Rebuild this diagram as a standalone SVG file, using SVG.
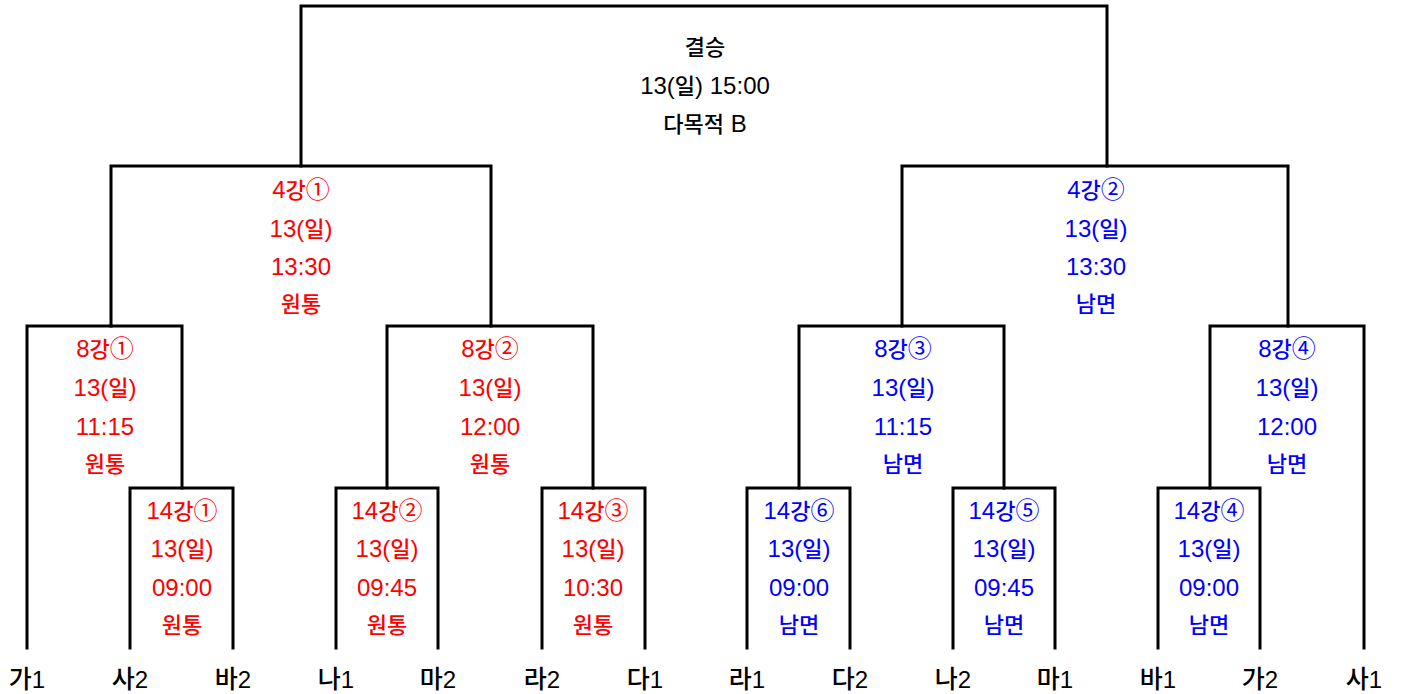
<svg xmlns="http://www.w3.org/2000/svg" width="1401" height="694" viewBox="0 0 1401 694">
<style>
.l{fill:none;stroke:#000;stroke-width:3;stroke-linecap:square}
text{font-family:"Liberation Sans","Noto Sans CJK KR",sans-serif;font-size:24px;text-anchor:middle}
.h{font-family:"Noto Sans CJK KR",sans-serif;font-size:22px;font-weight:500}
.r{fill:#ff0000}
.b{fill:#0000ff}
.k{fill:#000}
.t{font-size:26px}
.t .h{font-size:25px}
</style>
<rect width="1401" height="694" fill="#fff"/>
<g id="connectors">
<path class="l" d="M301 166V6H1107V166"/>
<path class="l" d="M111 326V166H491V326"/>
<path class="l" d="M902 326V166H1288V326"/>
<path class="l" d="M27 648V326H182V488"/>
<path class="l" d="M387 488V326H593V488"/>
<path class="l" d="M799 488V326H1004V488"/>
<path class="l" d="M1210 488V326H1364V648"/>
<path class="l" d="M130 648V488H233V648"/>
<path class="l" d="M336 648V488H438V648"/>
<path class="l" d="M542 648V488H645V648"/>
<path class="l" d="M747 648V488H850V648"/>
<path class="l" d="M953 648V488H1055V648"/>
<path class="l" d="M1158 648V488H1260V648"/>
</g>
<g id="final" class="k">
<text x="705" y="55"><tspan class="h">결승</tspan></text>
<text x="705" y="94">13(<tspan class="h">일</tspan>) 15:00</text>
<text x="705" y="132"><tspan class="h">다목적</tspan> B</text>
</g>
<g id="sf1" class="r">
<text x="301" y="198">4<tspan class="h">강</tspan>①</text>
<text x="301" y="237">13(<tspan class="h">일</tspan>)</text>
<text x="301" y="275">13:30</text>
<text x="301" y="312"><tspan class="h">원통</tspan></text>
</g>
<g id="sf2" class="b">
<text x="1096" y="198">4<tspan class="h">강</tspan>②</text>
<text x="1096" y="237">13(<tspan class="h">일</tspan>)</text>
<text x="1096" y="275">13:30</text>
<text x="1096" y="312"><tspan class="h">남면</tspan></text>
</g>
<g id="qf1" class="r">
<text x="105" y="357">8<tspan class="h">강</tspan>①</text>
<text x="105" y="396">13(<tspan class="h">일</tspan>)</text>
<text x="105" y="435">11:15</text>
<text x="105" y="472"><tspan class="h">원통</tspan></text>
</g>
<g id="qf2" class="r">
<text x="490" y="357">8<tspan class="h">강</tspan>②</text>
<text x="490" y="396">13(<tspan class="h">일</tspan>)</text>
<text x="490" y="435">12:00</text>
<text x="490" y="472"><tspan class="h">원통</tspan></text>
</g>
<g id="qf3" class="b">
<text x="903" y="357">8<tspan class="h">강</tspan>③</text>
<text x="903" y="396">13(<tspan class="h">일</tspan>)</text>
<text x="903" y="435">11:15</text>
<text x="903" y="472"><tspan class="h">남면</tspan></text>
</g>
<g id="qf4" class="b">
<text x="1287" y="357">8<tspan class="h">강</tspan>④</text>
<text x="1287" y="396">13(<tspan class="h">일</tspan>)</text>
<text x="1287" y="435">12:00</text>
<text x="1287" y="472"><tspan class="h">남면</tspan></text>
</g>
<g id="r14-1" class="r">
<text x="182" y="519">14<tspan class="h">강</tspan>①</text>
<text x="182" y="557">13(<tspan class="h">일</tspan>)</text>
<text x="182" y="596">09:00</text>
<text x="182" y="633"><tspan class="h">원통</tspan></text>
</g>
<g id="r14-2" class="r">
<text x="387" y="519">14<tspan class="h">강</tspan>②</text>
<text x="387" y="557">13(<tspan class="h">일</tspan>)</text>
<text x="387" y="596">09:45</text>
<text x="387" y="633"><tspan class="h">원통</tspan></text>
</g>
<g id="r14-3" class="r">
<text x="593" y="519">14<tspan class="h">강</tspan>③</text>
<text x="593" y="557">13(<tspan class="h">일</tspan>)</text>
<text x="593" y="596">10:30</text>
<text x="593" y="633"><tspan class="h">원통</tspan></text>
</g>
<g id="r14-6" class="b">
<text x="799" y="519">14<tspan class="h">강</tspan>⑥</text>
<text x="799" y="557">13(<tspan class="h">일</tspan>)</text>
<text x="799" y="596">09:00</text>
<text x="799" y="633"><tspan class="h">남면</tspan></text>
</g>
<g id="r14-5" class="b">
<text x="1004" y="519">14<tspan class="h">강</tspan>⑤</text>
<text x="1004" y="557">13(<tspan class="h">일</tspan>)</text>
<text x="1004" y="596">09:45</text>
<text x="1004" y="633"><tspan class="h">남면</tspan></text>
</g>
<g id="r14-4" class="b">
<text x="1209" y="519">14<tspan class="h">강</tspan>④</text>
<text x="1209" y="557">13(<tspan class="h">일</tspan>)</text>
<text x="1209" y="596">09:00</text>
<text x="1209" y="633"><tspan class="h">남면</tspan></text>
</g>
<g id="teams" class="k t">
<text id="t-ga1" x="27" y="688"><tspan class="h">가</tspan>1</text>
<text id="t-sa2" x="130" y="688"><tspan class="h">사</tspan>2</text>
<text id="t-ba2" x="233" y="688"><tspan class="h">바</tspan>2</text>
<text id="t-na1" x="336" y="688"><tspan class="h">나</tspan>1</text>
<text id="t-ma2" x="438" y="688"><tspan class="h">마</tspan>2</text>
<text id="t-ra2" x="542" y="688"><tspan class="h">라</tspan>2</text>
<text id="t-da1" x="645" y="688"><tspan class="h">다</tspan>1</text>
<text id="t-ra1" x="747" y="688"><tspan class="h">라</tspan>1</text>
<text id="t-da2" x="850" y="688"><tspan class="h">다</tspan>2</text>
<text id="t-na2" x="953" y="688"><tspan class="h">나</tspan>2</text>
<text id="t-ma1" x="1055" y="688"><tspan class="h">마</tspan>1</text>
<text id="t-ba1" x="1158" y="688"><tspan class="h">바</tspan>1</text>
<text id="t-ga2" x="1260" y="688"><tspan class="h">가</tspan>2</text>
<text id="t-sa1" x="1364" y="688"><tspan class="h">사</tspan>1</text>
</g>
</svg>
